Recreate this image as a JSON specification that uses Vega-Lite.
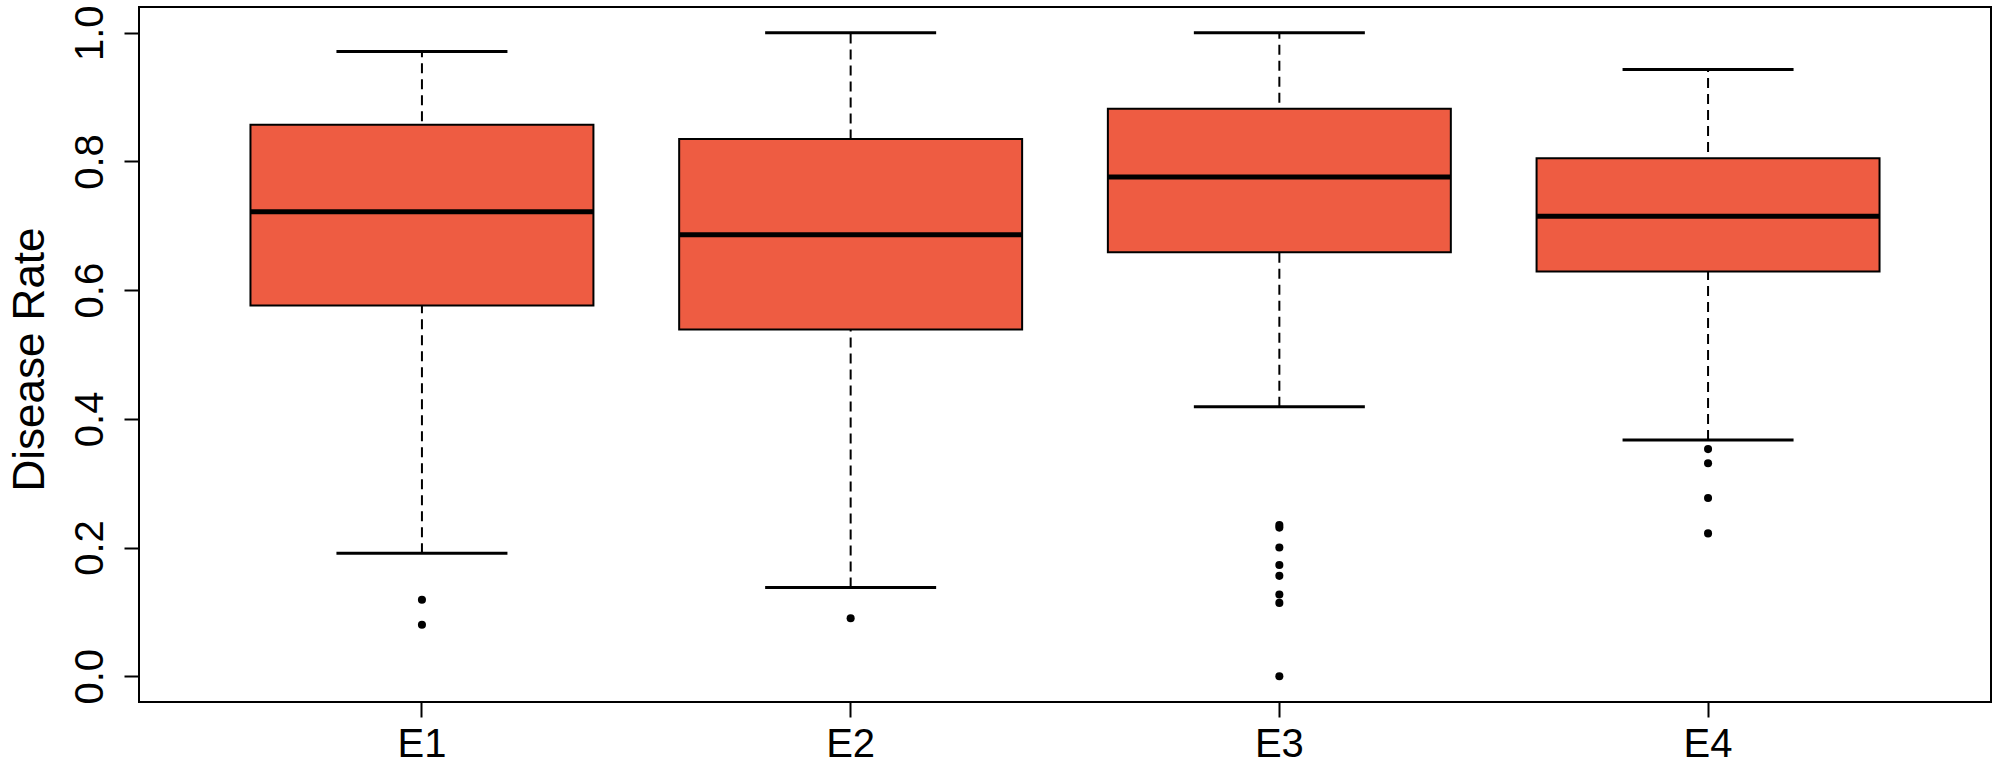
{
  "$schema": "https://vega.github.io/schema/vega-lite/v6.json",
  "autosize": {"type": "none"},
  "padding": {"left": 139, "top": 7, "right": 9, "bottom": 69},
  "width": 1852,
  "height": 695,
  "background": "white",
  "config": {
    "view": {"stroke": "black", "strokeWidth": 2},
    "font": "Liberation Sans",
    "axis": {
      "domain": false,
      "grid": false,
      "tickColor": "black",
      "tickWidth": 2,
      "tickSize": 15,
      "labelColor": "black",
      "titleColor": "black",
      "labelFont": "Liberation Sans",
      "titleFont": "Liberation Sans",
      "labelFontSize": 40,
      "titleFontSize": 44,
      "titleFontWeight": "normal"
    }
  },
  "datasets": {
    "stats": [
      {"group": "E1", "lower": 0.191, "q1": 0.576, "median": 0.722, "q3": 0.857, "upper": 0.971},
      {"group": "E2", "lower": 0.138, "q1": 0.539, "median": 0.686, "q3": 0.835, "upper": 1.0},
      {"group": "E3", "lower": 0.419, "q1": 0.659, "median": 0.776, "q3": 0.882, "upper": 1.0},
      {"group": "E4", "lower": 0.367, "q1": 0.629, "median": 0.715, "q3": 0.805, "upper": 0.943}
    ],
    "outliers": [
      {"group": "E1", "value": 0.119},
      {"group": "E1", "value": 0.080},
      {"group": "E2", "value": 0.090},
      {"group": "E3", "value": 0.235},
      {"group": "E3", "value": 0.231},
      {"group": "E3", "value": 0.200},
      {"group": "E3", "value": 0.173},
      {"group": "E3", "value": 0.156},
      {"group": "E3", "value": 0.127},
      {"group": "E3", "value": 0.114},
      {"group": "E3", "value": 0.0},
      {"group": "E4", "value": 0.353},
      {"group": "E4", "value": 0.331},
      {"group": "E4", "value": 0.277},
      {"group": "E4", "value": 0.222}
    ]
  },
  "encoding": {
    "x": {
      "field": "group",
      "type": "nominal",
      "scale": {"domain": ["E1", "E2", "E3", "E4"], "paddingInner": 0.2, "paddingOuter": 0.26},
      "axis": {"title": null, "labelAngle": 0, "labelBaseline": "alphabetic", "labelPadding": 39, "labelAlign": "center"}
    }
  },
  "layer": [
    {
      "data": {"name": "stats"},
      "mark": {"type": "rule", "strokeDash": [10, 6], "strokeWidth": 2, "color": "black"},
      "encoding": {
        "y": {
          "field": "lower",
          "type": "quantitative",
          "scale": {"domain": [-0.04, 1.04], "nice": false, "zero": false},
          "axis": {
            "title": "Disease Rate",
            "values": [0, 0.2, 0.4, 0.6, 0.8, 1.0],
            "format": ".1f",
            "labelAngle": -90,
            "labelAlign": "center",
            "labelBaseline": "alphabetic",
            "labelPadding": 22,
            "titleAngle": -90,
            "titleBaseline": "alphabetic",
            "titleAlign": "center",
            "titleX": -96,
            "titleY": 352
          }
        },
        "y2": {"field": "upper"}
      }
    },
    {
      "data": {"name": "stats"},
      "mark": {"type": "tick", "size": 171, "thickness": 3, "color": "black", "opacity": 1},
      "encoding": {"y": {"field": "lower", "type": "quantitative"}}
    },
    {
      "data": {"name": "stats"},
      "mark": {"type": "tick", "size": 171, "thickness": 3, "color": "black", "opacity": 1},
      "encoding": {"y": {"field": "upper", "type": "quantitative"}}
    },
    {
      "data": {"name": "stats"},
      "mark": {"type": "bar", "fill": "#EE5C42", "stroke": "black", "strokeWidth": 2, "opacity": 1},
      "encoding": {
        "y": {"field": "q1", "type": "quantitative"},
        "y2": {"field": "q3"}
      }
    },
    {
      "data": {"name": "stats"},
      "mark": {"type": "tick", "size": 343, "thickness": 5, "color": "black", "opacity": 1},
      "encoding": {"y": {"field": "median", "type": "quantitative"}}
    },
    {
      "data": {"name": "outliers"},
      "mark": {"type": "point", "filled": true, "size": 65, "color": "black", "opacity": 1},
      "encoding": {"y": {"field": "value", "type": "quantitative"}}
    }
  ]
}
